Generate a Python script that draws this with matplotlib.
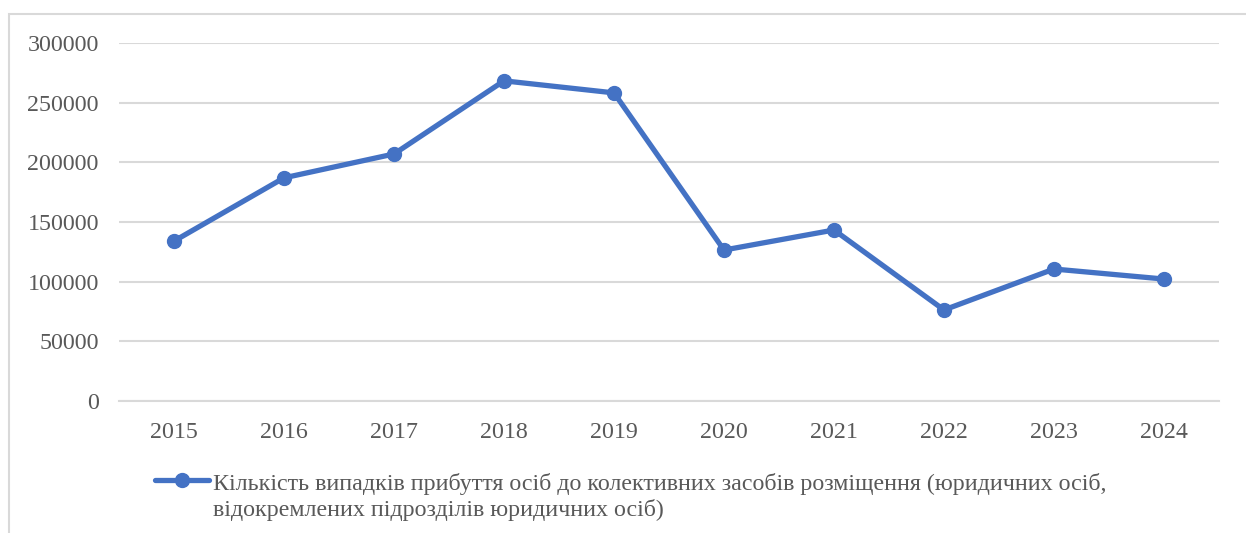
import matplotlib
matplotlib.use('Agg')
import matplotlib.pyplot as plt
from matplotlib.lines import Line2D
from matplotlib.patches import Rectangle

# data
years = ['2015', '2016', '2017', '2018', '2019', '2020', '2021', '2022', '2023', '2024']
arrivals = [134000, 187000, 207000, 268300, 258200, 126500, 143300, 76300, 110600, 102200]
yticks = [0, 50000, 100000, 150000, 200000, 250000, 300000]
label = ('Кількість випадків прибуття осіб до колективних засобів розміщення (юридичних осіб,\n'
         'відокремлених підрозділів юридичних осіб)')

blue = '#4472C4'
grey_txt = '#595959'
grid_c = '#D9D9D9'

plt.rcParams['font.family'] = ['Liberation Serif', 'DejaVu Serif']

W, H = 1246, 533
fig = plt.figure(figsize=(W / 100, H / 100), dpi=100)
ax = fig.add_axes([119 / W, 1 - 401 / H, 1100 / W, 358 / H])

# outer chart frame (partly cropped in the reference)
fig.patches.append(Rectangle((9 / W, -0.1), 1.2, 1 - 14 / H + 0.1, transform=fig.transFigure,
                             fill=False, edgecolor=grid_c, linewidth=1.5))

x = list(range(len(years)))
ax.plot(x, arrivals, color=blue, linewidth=3.8, marker='o', markersize=10,
        solid_capstyle='round', zorder=3)

ax.set_xlim(-0.5, len(years) - 0.5)
ax.set_ylim(0, 300000)
ax.set_yticks(yticks)
ax.set_yticklabels([str(v) for v in yticks])
ax.set_xticks(x)
ax.set_xticklabels(years)
ax.yaxis.grid(True, color=grid_c, linewidth=1.5)
ax.set_axisbelow(True)
for s in ['top', 'right', 'left']:
    ax.spines[s].set_visible(False)
ax.spines['bottom'].set_color(grid_c)
ax.spines['bottom'].set_linewidth(1.5)
ax.tick_params(axis='both', length=0, labelsize=17.3, colors=grey_txt)
ax.tick_params(axis='y', pad=14.5)
ax.tick_params(axis='x', pad=15)

# legend drawn by hand so the key sits on the first text line
ly = 1 - 480 / H
fig.add_artist(Line2D([155 / W, 209 / W], [ly, ly], color=blue, linewidth=3.8,
                      solid_capstyle='round', transform=fig.transFigure))
fig.add_artist(Line2D([182 / W], [ly], color=blue, marker='o', markersize=10,
                      transform=fig.transFigure))
fig.text(213 / W, 1 - 473 / H, label, fontsize=17.3, color=grey_txt, va='top', ha='left',
         linespacing=1.22)

fig.savefig('out.png', dpi=100)
